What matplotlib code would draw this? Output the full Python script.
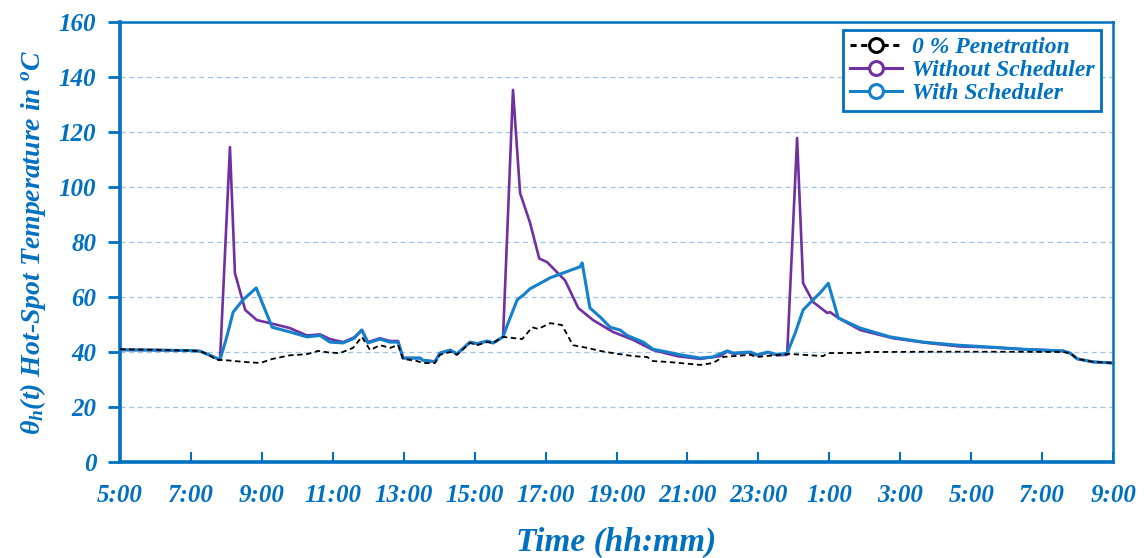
import matplotlib
matplotlib.use("Agg")
from matplotlib import pyplot as plt
from matplotlib.lines import Line2D

# hours elapsed since 5:00 on the first day
base_t = [0.0, 1.0, 2.0, 2.26, 2.5, 2.71, 3.0, 3.5, 3.95, 4.3, 4.79, 5.27, 5.58, 5.9, 6.2,
          6.57, 6.82, 7.05, 7.33, 7.61, 7.84, 7.98, 8.38, 8.54, 8.88, 9.02, 9.31, 9.5, 9.87,
          10.07, 10.35, 10.52, 10.8, 11.34, 11.62, 11.79, 12.13, 12.46, 12.77, 13.17, 13.54,
          13.9, 14.47, 14.86, 15.03, 15.43, 15.79, 16.36, 16.72, 17.0, 17.29, 17.77, 17.96,
          18.61, 18.89, 19.83, 19.94, 20.87, 21.07, 23.0, 25.0, 26.59, 26.79, 26.99, 27.44, 28.0]
base_y = [41.0, 40.8, 40.5, 40.3, 39.0, 37.2, 37.0, 36.4, 36.0, 37.5, 38.8, 39.2, 40.4, 39.8, 39.6,
          41.5, 45.5, 40.7, 42.5, 41.5, 42.5, 37.5, 36.7, 36.0, 36.0, 39.0, 40.0, 39.0, 43.3,
          42.5, 43.6, 43.3, 45.5, 44.7, 49.0, 48.4, 50.5, 49.8, 42.5, 41.5, 40.4,
          39.6, 38.5, 38.2, 36.7, 36.4, 36.0, 35.3, 36.0, 38.2, 38.5, 39.0, 38.2,
          39.0, 39.3, 38.5, 39.6, 39.7, 40.0, 40.1, 40.1, 40.0, 39.6, 37.5, 36.4, 36.0]

sched_t = [0.0, 1.0, 2.0, 2.26, 2.5, 2.82, 3.0, 3.19, 3.47, 3.84, 4.29, 4.79, 5.27, 5.64, 5.92,
           6.29, 6.6, 6.82, 6.99, 7.33, 7.61, 7.84, 7.98, 8.46, 8.54, 8.88, 9.02, 9.31, 9.5,
           9.87, 10.07, 10.35, 10.52, 10.8, 10.94, 11.2, 11.37, 11.56, 11.85, 12.13, 12.55,
           12.97, 13.03, 13.25, 13.54, 13.82, 14.1, 14.3, 14.75, 15.03, 15.43, 15.79, 16.36,
           16.72, 17.12, 17.29, 17.77, 17.96, 18.27, 18.53, 18.81, 19.04, 19.26, 19.54, 19.74,
           19.97, 20.25, 20.87, 21.71, 22.65, 23.6, 24.53, 25.47, 26.59, 26.79, 26.99, 27.44, 28.0]
sched_y = [40.8, 40.7, 40.5, 40.3, 39.0, 37.2, 45.0, 54.5, 59.0, 63.3, 49.0, 47.3, 45.5, 46.0, 43.6,
           43.3, 45.0, 48.0, 43.3, 44.7, 43.6, 43.6, 37.8, 37.8, 37.0, 36.5, 39.6, 40.7, 39.3,
           43.6, 43.0, 44.0, 43.3, 45.5, 50.5, 59.0, 60.7, 63.0, 65.0, 67.0, 69.0,
           71.0, 72.4, 56.0, 52.7, 49.0, 48.0, 46.0, 43.6, 41.0, 40.0, 39.0, 37.8,
           38.2, 40.4, 39.6, 40.0, 39.0, 40.0, 39.0, 39.6, 47.0, 55.3, 59.0, 61.5,
           65.0, 52.4, 48.7, 45.5, 43.6, 42.5, 41.8, 41.0, 40.4, 39.6, 37.5, 36.4, 36.0]

nosched_t = [0.0, 1.0, 2.0, 2.26, 2.5, 2.82, 3.1, 3.24, 3.53, 3.86, 4.23, 4.79, 5.27, 5.64, 5.92,
             6.29, 6.6, 6.82, 6.99, 7.33, 7.61, 7.84, 7.98, 8.46, 8.54, 8.88, 9.02, 9.31, 9.5,
             9.87, 10.07, 10.35, 10.52, 10.8, 11.08, 11.28, 11.56, 11.82, 12.04, 12.55, 12.92,
             13.34, 13.9, 14.47, 15.03, 15.71, 16.36, 16.92, 17.12, 17.29, 17.77, 17.96, 18.27,
             18.53, 18.81, 19.09, 19.26, 19.54, 19.94, 20.02, 20.25, 20.87, 21.8, 22.76, 23.69,
             24.53, 25.47, 26.59, 26.79, 26.99, 27.44, 28.0]
nosched_y = [40.8, 40.7, 40.5, 40.3, 39.0, 37.2, 114.5, 68.7, 55.3, 51.6, 50.5, 48.7, 46.0, 46.4, 44.7,
             43.6, 45.3, 48.0, 43.6, 45.0, 44.0, 44.0, 37.8, 37.8, 37.0, 36.5, 39.6, 40.7, 39.3,
             43.6, 43.0, 44.0, 43.3, 45.5, 135.3, 97.8, 87.0, 74.0, 72.7, 66.0, 56.0,
             51.6, 47.3, 44.4, 40.7, 38.5, 37.5, 38.5, 40.2, 39.4, 39.8, 38.8, 39.8,
             38.8, 39.0, 117.8, 65.0, 58.2, 54.2, 54.5, 52.4, 48.0, 45.0, 43.3, 42.0,
             41.7, 41.0, 40.4, 39.6, 37.5, 36.4, 36.0]

tick_hours = list(range(0, 29, 2))
tick_labels = ["5:00", "7:00", "9:00", "11:00", "13:00", "15:00", "17:00", "19:00",
               "21:00", "23:00", "1:00", "3:00", "5:00", "7:00", "9:00"]
legend_labels = ["0 % Penetration", "Without Scheduler", "With Scheduler"]

BLUE = "#0070C0"
LINE_BLUE = "#1580CC"
PURPLE = "#7030A0"
GRID = "#9DC3E6"

plt.rcParams["font.family"] = "Liberation Serif"
plt.rcParams["mathtext.fontset"] = "custom"
plt.rcParams["mathtext.rm"] = "Liberation Serif:italic:bold"
plt.rcParams["mathtext.it"] = "Liberation Serif:italic:bold"

fig = plt.figure(figsize=(11.44, 5.58), dpi=100)
ax = fig.add_axes([0.1049, 0.172, 0.8681, 0.7886])

ax.plot(nosched_t, nosched_y, color=PURPLE, lw=1.9, zorder=3)
ax.plot(sched_t, sched_y, color=LINE_BLUE, lw=2.2, zorder=4)
ax.plot(base_t, base_y, color="black", lw=1.3, ls=(0, (3, 2)), zorder=5)

ax.set_xlim(0, 28)
ax.set_ylim(0, 160)
ax.set_yticks(range(0, 161, 20))
ax.set_xticks(tick_hours)
ax.set_xticklabels(tick_labels)

for y in range(20, 160, 20):
    ax.axhline(y, color=GRID, lw=0.9, ls=(0, (4, 3)), zorder=1)

for side in ["left", "bottom"]:
    ax.spines[side].set_linewidth(2.6)
    ax.spines[side].set_color(BLUE)
for side in ["top", "right"]:
    ax.spines[side].set_linewidth(1.8)
    ax.spines[side].set_color(BLUE)

tick_font = dict(family="Liberation Serif", style="italic", weight="bold", size=18)
ax.tick_params(axis="y", direction="out", length=9, width=2, color=BLUE,
               labelcolor=BLUE, pad=8)
ax.tick_params(axis="x", direction="in", length=7, width=1.5, color=BLUE,
               labelcolor=BLUE, pad=16)
for lab in ax.get_xticklabels() + ax.get_yticklabels():
    lab.set_fontproperties(tick_font)

ax.set_xlabel("Time (hh:mm)", color=BLUE, fontsize=24, style="italic",
              weight="bold", labelpad=14)
ax.set_ylabel(r"$\theta_h(t)$ Hot-Spot Temperature in $^o$C", color=BLUE,
              fontsize=20, style="italic", weight="bold", labelpad=8)

handles = [
    Line2D([], [], color="black", lw=2.2, ls=(0, (2, 1.5)), marker="o", ms=10,
           mfc="white", mec="black", mew=2.2),
    Line2D([], [], color=PURPLE, lw=2.2, marker="o", ms=10, mfc="white", mec=PURPLE, mew=2.2),
    Line2D([], [], color=LINE_BLUE, lw=2.2, marker="o", ms=10, mfc="white", mec=LINE_BLUE, mew=2.2),
]
leg = ax.legend(handles, legend_labels, loc="upper right", bbox_to_anchor=(1.0, 1.009),
                fancybox=False, framealpha=1, edgecolor=BLUE, handlelength=2.2,
                handletextpad=0.4, borderpad=0.3, labelspacing=0.05,
                prop=dict(family="Liberation Serif", style="italic", weight="bold", size=17))
leg.get_frame().set_linewidth(2)
for t in leg.get_texts():
    t.set_color(BLUE)

fig.savefig("out.png", dpi=100)
